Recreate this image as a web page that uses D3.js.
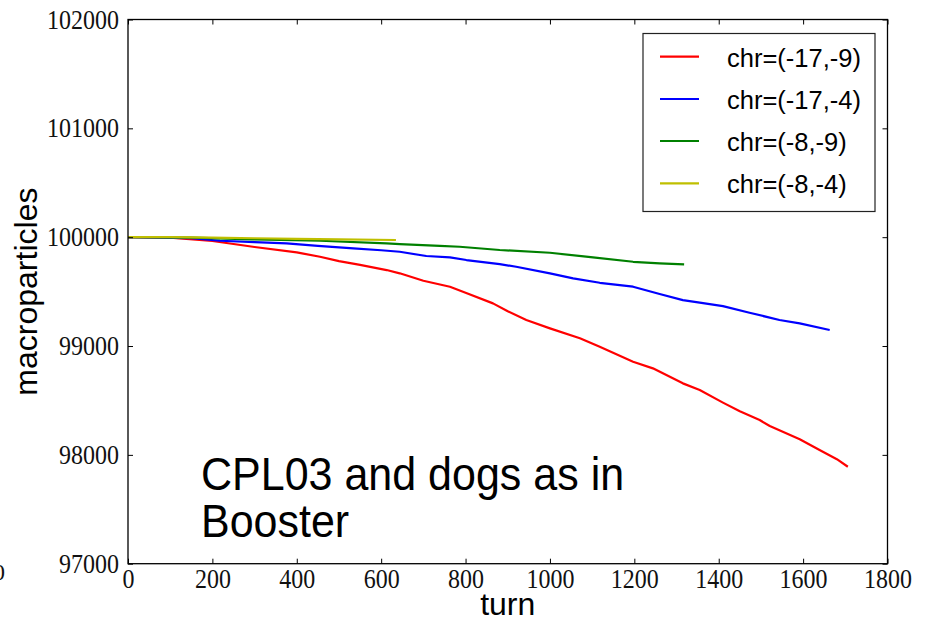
<!DOCTYPE html>
<html>
<head>
<meta charset="utf-8">
<script src="https://cdn.jsdelivr.net/npm/d3@7"></script>
<style>
  html, body { margin: 0; padding: 0; background: #fff; }
  svg { display: block; }
</style>
</head>
<body>
<svg id="chart" width="927" height="621"></svg>
<script>
// Macroparticle survival vs. turn for four chromaticity settings
const seriesNames = ["chr=(-17,-9)", "chr=(-17,-4)", "chr=(-8,-9)", "chr=(-8,-4)"];
const seriesColors = ["#ff0000", "#0000ff", "#008000", "#bfbf00"];

const redTurns = [0, 100, 200, 300, 400, 455, 500, 550, 613, 644, 700, 763, 800, 865, 900, 944, 1000, 1071, 1118, 1197, 1244, 1315, 1355, 1410, 1450, 1497, 1521, 1592, 1639, 1680, 1706];
const redValues = [100000, 99995, 99965, 99910, 99860, 99820, 99780, 99745, 99698, 99668, 99600, 99545, 99490, 99392, 99320, 99239, 99162, 99071, 98993, 98855, 98795, 98657, 98596, 98480, 98400, 98320, 98265, 98143, 98044, 97960, 97891];

const blueTurns = [0, 150, 218, 300, 376, 450, 534, 600, 644, 707, 763, 802, 881, 920, 1000, 1055, 1118, 1197, 1260, 1315, 1355, 1410, 1473, 1544, 1592, 1663];
const blueValues = [100000, 99990, 99967, 99955, 99943, 99920, 99897, 99880, 99866, 99827, 99815, 99790, 99753, 99728, 99668, 99622, 99581, 99545, 99478, 99422, 99398, 99367, 99306, 99239, 99208, 99147];

const greenTurns = [0, 150, 297, 455, 613, 644, 739, 786, 881, 1000, 1102, 1197, 1260, 1318];
const greenValues = [100000, 99995, 99980, 99967, 99943, 99937, 99921, 99912, 99882, 99857, 99815, 99774, 99760, 99750];

const yellowTurns = [0, 100, 200, 300, 400, 500, 635];
const yellowValues = [100000, 100000, 99995, 99990, 99985, 99980, 99974];

const xTicks = [0, 200, 400, 600, 800, 1000, 1200, 1400, 1600, 1800];
const yTicks = [97000, 98000, 99000, 100000, 101000, 102000];

const svg = d3.select("#chart");
const plotLeft = 128, plotRight = 887.5, plotTop = 19.5, plotBottom = 563.7;

const x = d3.scaleLinear().domain([0, 1800]).range([plotLeft, plotRight]);
const y = d3.scaleLinear().domain([97000, 102000]).range([plotBottom, plotTop]);

const series = [
  { turns: redTurns, values: redValues },
  { turns: blueTurns, values: blueValues },
  { turns: greenTurns, values: greenValues },
  { turns: yellowTurns, values: yellowValues }
];

const line = d3.line().x(d => x(d[0])).y(d => y(d[1]));

// Curves
series.forEach((s, i) => {
  const pts = s.turns.map((t, k) => [t, s.values[k]]);
  svg.append("path")
    .datum(pts)
    .attr("fill", "none")
    .attr("stroke", seriesColors[i])
    .attr("stroke-width", 2.2)
    .attr("stroke-linejoin", "round")
    .attr("d", line);
});

// Axes with inward ticks on all four sides
const tickFont = "'Liberation Serif', 'DejaVu Serif', serif";

const gBottom = svg.append("g").attr("transform", `translate(0,${plotBottom})`)
  .call(d3.axisBottom(x).tickValues(xTicks).tickSize(-5).tickPadding(5).tickFormat(d3.format("d")));
const gTop = svg.append("g").attr("transform", `translate(0,${plotTop})`)
  .call(d3.axisTop(x).tickValues(xTicks).tickSize(-5).tickFormat(""));
const gLeft = svg.append("g").attr("transform", `translate(${plotLeft},0)`)
  .call(d3.axisLeft(y).tickValues(yTicks).tickSize(-5).tickPadding(9).tickFormat(d3.format("d")));
const gRight = svg.append("g").attr("transform", `translate(${plotRight},0)`)
  .call(d3.axisRight(y).tickValues(yTicks).tickSize(-5).tickFormat(""));

[gBottom, gTop, gLeft, gRight].forEach(g => {
  g.select(".domain").remove();
  g.selectAll(".tick line").attr("stroke", "#000").attr("stroke-width", 1);
  g.selectAll(".tick text")
    .attr("fill", "#111")
    .style("font-family", tickFont)
    .style("font-size", "24px");
});
gBottom.selectAll(".tick text").attr("transform", "scale(1,1.12)");
gLeft.selectAll(".tick text").attr("transform", "scale(1,1.12)");

// Frame
svg.append("rect")
  .attr("x", plotLeft).attr("y", plotTop)
  .attr("width", plotRight - plotLeft).attr("height", plotBottom - plotTop)
  .attr("fill", "none").attr("stroke", "#000").attr("stroke-width", 1.3);

// Stray digit at the left edge
svg.append("text")
  .attr("x", 5).attr("y", 580)
  .attr("text-anchor", "end")
  .attr("fill", "#111")
  .style("font-family", tickFont)
  .style("font-size", "24px")
  .text("0");

// Axis labels
const sans = "Arial, 'Liberation Sans', Helvetica, sans-serif";
svg.append("text")
  .attr("x", (plotLeft + plotRight) / 2).attr("y", 615)
  .attr("text-anchor", "middle")
  .style("font-family", sans).style("font-size", "32px")
  .text("turn");
svg.append("text")
  .attr("transform", `translate(37,${(plotTop + plotBottom) / 2}) rotate(-90)`)
  .attr("text-anchor", "middle")
  .style("font-family", sans).style("font-size", "32px")
  .text("macroparticles");

// Annotation
const note = svg.append("g").style("font-family", sans).style("font-size", "43px");
note.append("text").attr("transform", "translate(201,490) scale(1,1.08)").text("CPL03 and dogs as in");
note.append("text").attr("transform", "translate(201,536.7) scale(1,1.08)").text("Booster");

// Legend
const legend = svg.append("g");
legend.append("rect")
  .attr("x", 643).attr("y", 33.5).attr("width", 232).attr("height", 178)
  .attr("fill", "#fff").attr("stroke", "#222").attr("stroke-width", 1.2);
const rowY = [56.7, 99, 141, 183.3];
seriesNames.forEach((name, i) => {
  legend.append("line")
    .attr("x1", 660).attr("x2", 699)
    .attr("y1", rowY[i]).attr("y2", rowY[i])
    .attr("stroke", seriesColors[i]).attr("stroke-width", 2.2);
  legend.append("text")
    .attr("x", 727).attr("y", rowY[i] + 10)
    .style("font-family", sans).style("font-size", "25.5px")
    .text(name);
});
</script>
</body>
</html>
